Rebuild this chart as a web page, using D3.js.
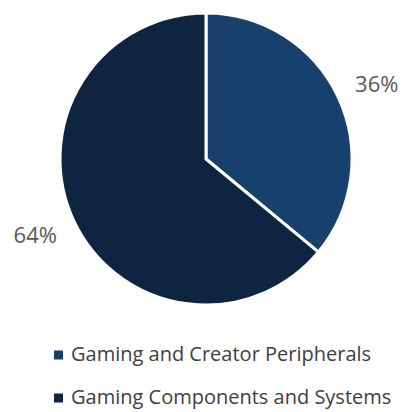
<!DOCTYPE html>
<html><head><meta charset="utf-8">
<script src="https://cdn.jsdelivr.net/npm/d3@7"></script>
<style>body{margin:0;background:#fff}svg{display:block}</style>
</head><body>
<script>
const categories = ["Gaming and Creator Peripherals", "Gaming Components and Systems"];
const values = [36, 64];
const labels = ["36%", "64%"];
const colors = ["#17406d", "#0e2440"];

const W = 402, H = 412;
const svg = d3.select("body").append("svg").attr("width", W).attr("height", H);
const cx = 206, cy = 159, r = 146;
const pie = d3.pie().sort(null).value(d => d)(values);
const arc = d3.arc().innerRadius(0).outerRadius(r);
const g = svg.append("g").attr("transform", `translate(${cx},${cy})`);
g.selectAll("path").data(pie).join("path")
  .attr("d", arc).attr("fill", (d, i) => colors[i])
  .attr("stroke", "#fff").attr("stroke-width", 3).attr("stroke-linejoin", "round");
const labelArc = d3.arc().innerRadius(r + 32).outerRadius(r + 32);
g.selectAll("text").data(pie).join("text")
  .attr("transform", d => { const [x, y] = labelArc.centroid(d); return `translate(${x * 1.06},${y + 1})`; })
  .attr("text-anchor", "middle").attr("dy", "0.35em")
  .attr("font-family", "'Open Sans', sans-serif").attr("font-size", 22)
  .attr("fill", "#595959").text((d, i) => labels[i]);
const leg = svg.append("g");
categories.forEach((c, i) => {
  const y = 355 + i * 43;
  leg.append("rect").attr("x", 54).attr("y", y - 4.5).attr("width", 9).attr("height", 9).attr("fill", colors[i]);
  leg.append("text").attr("x", 71).attr("y", y + 6)
    .attr("font-family", "'Open Sans', sans-serif").attr("font-size", 20)
    .attr("fill", "#404040").text(c);
});
</script>
</body></html>
